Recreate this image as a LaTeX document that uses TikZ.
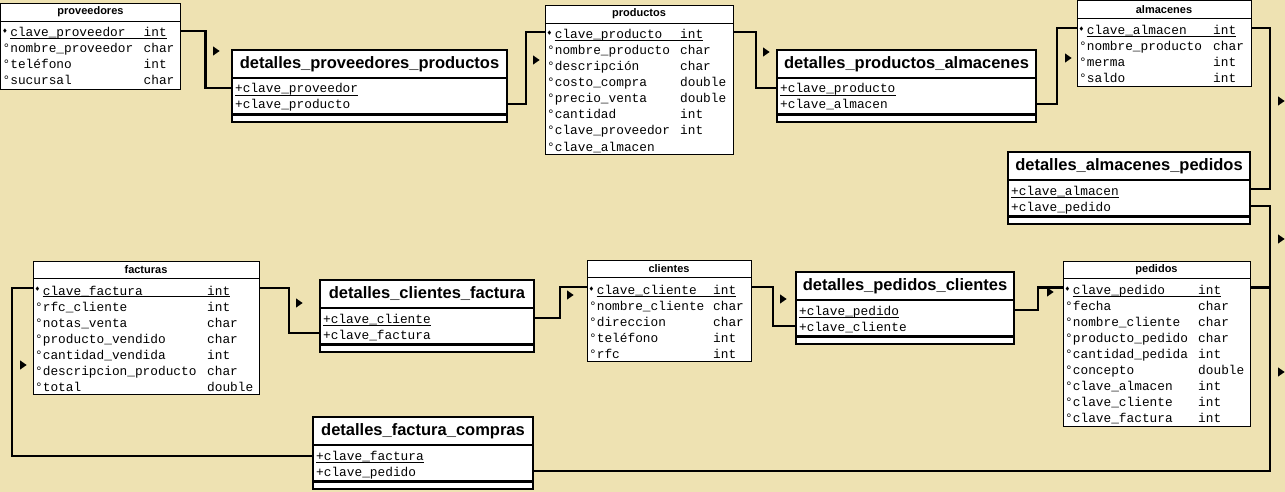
\documentclass[tikz,border=0pt]{standalone}
\usepackage{fontspec}
\usepackage{amssymb}
\setsansfont{Liberation Sans}
\setmonofont{Liberation Mono}
\usetikzlibrary{shapes.geometric}
\definecolor{fondo}{RGB}{238,226,178}
\newcommand{\llave}{\makebox[0.6em][l]{\raisebox{0.33em}{\fontsize{5}{5}\selectfont$\blacklozenge$}}}

\begin{document}
\begin{tikzpicture}[x=1pt,y=-1pt,
  tabla/.style={draw, fill=white, line width=0.8pt, anchor=north west, inner sep=0pt, outer sep=0pt},
  detalle/.style={draw, fill=white, line width=2.4pt, anchor=north west, inner sep=0pt, outer sep=0pt, minimum height=72},
  linea/.style={line width=0.8pt},
  linea gruesa/.style={line width=2.4pt},
  titulo/.style={font=\sffamily\bfseries\fontsize{11}{13}\selectfont, inner sep=0pt},
  titulo detalle/.style={font=\sffamily\bfseries\fontsize{16.5}{19}\selectfont, inner sep=0pt},
  campo/.style={font=\ttfamily\fontsize{12.8}{16}\selectfont, anchor=base west, inner sep=0pt},
  relacion/.style={line width=2.4pt},
  marca/.style={isosceles triangle, isosceles triangle apex angle=70, inner sep=1.9pt, fill=black}]

  \fill[fondo] (0,0) rectangle (1285,492);
  \useasboundingbox (0,0) rectangle (1285,492);

  % Tablas principales
  \node[tabla, minimum width=180, minimum height=86] (proveedores) at (0.5,3) {};
  \node[titulo] at ([yshift=-9pt]proveedores.north) {proveedores};
  \draw[linea] ([yshift=-18pt]proveedores.north west) -- ([yshift=-18pt]proveedores.north east);
  \foreach \campo/\tipo [count=\i] in {{\llave clave\_proveedor}/int, °nombre\_proveedor/char, °teléfono/int, °sucursal/char} {
    \node[campo] (proveedores-c\i) at ([xshift=2pt, yshift={-34pt-16pt*(\i-1)}]proveedores.north west) {\campo};
    \node[campo] (proveedores-t\i) at ([xshift=143pt, yshift={-34pt-16pt*(\i-1)}]proveedores.north west) {\tipo};
  }
  \draw[linea] ([xshift=7.7pt, yshift=-1.5pt]proveedores-c1.base west) -- ([yshift=-1.5pt]proveedores-t1.base east);

  \node[tabla, minimum width=188, minimum height=149] (productos) at (545,5) {};
  \node[titulo] at ([yshift=-9pt]productos.north) {productos};
  \draw[linea] ([yshift=-18pt]productos.north west) -- ([yshift=-18pt]productos.north east);
  \foreach \campo/\tipo [count=\i] in {{\llave clave\_producto}/int, °nombre\_producto/char, °descripción/char, °costo\_compra/double, °precio\_venta/double, °cantidad/int, °clave\_proveedor/int, °clave\_almacen/} {
    \node[campo] (productos-c\i) at ([xshift=2pt, yshift={-34pt-16pt*(\i-1)}]productos.north west) {\campo};
    \node[campo] (productos-t\i) at ([xshift=135pt, yshift={-34pt-16pt*(\i-1)}]productos.north west) {\tipo};
  }
  \draw[linea] ([xshift=7.7pt, yshift=-1.5pt]productos-c1.base west) -- ([yshift=-1.5pt]productos-t1.base east);

  \node[tabla, minimum width=174, minimum height=86] (almacenes) at (1077,0.5) {};
  \node[titulo] at ([yshift=-9pt]almacenes.north) {almacenes};
  \draw[linea] ([yshift=-18pt]almacenes.north west) -- ([yshift=-18pt]almacenes.north east);
  \foreach \campo/\tipo [count=\i] in {{\llave clave\_almacen}/int, °nombre\_producto/char, °merma/int, °saldo/int} {
    \node[campo] (almacenes-c\i) at ([xshift=2pt, yshift={-34pt-16pt*(\i-1)}]almacenes.north west) {\campo};
    \node[campo] (almacenes-t\i) at ([xshift=136pt, yshift={-34pt-16pt*(\i-1)}]almacenes.north west) {\tipo};
  }
  \draw[linea] ([xshift=7.7pt, yshift=-1.5pt]almacenes-c1.base west) -- ([yshift=-1.5pt]almacenes-t1.base east);

  \node[tabla, minimum width=226, minimum height=133] (facturas) at (33,261) {};
  \node[titulo] at ([yshift=-9pt]facturas.north) {facturas};
  \draw[linea] ([yshift=-17.5pt]facturas.north west) -- ([yshift=-17.5pt]facturas.north east);
  \foreach \campo/\tipo [count=\i] in {{\llave clave\_factura}/int, °rfc\_cliente/int, °notas\_venta/char, °producto\_vendido/char, °cantidad\_vendida/int, °descripcion\_producto/char, °total/double} {
    \node[campo] (facturas-c\i) at ([xshift=2pt, yshift={-34pt-16pt*(\i-1)}]facturas.north west) {\campo};
    \node[campo] (facturas-t\i) at ([xshift=174pt, yshift={-34pt-16pt*(\i-1)}]facturas.north west) {\tipo};
  }
  \draw[linea] ([xshift=7.7pt, yshift=-1.5pt]facturas-c1.base west) -- ([yshift=-1.5pt]facturas-t1.base east);

  \node[tabla, minimum width=164, minimum height=101] (clientes) at (587,260) {};
  \node[titulo] at ([yshift=-8.5pt]clientes.north) {clientes};
  \draw[linea] ([yshift=-17pt]clientes.north west) -- ([yshift=-17pt]clientes.north east);
  \foreach \campo/\tipo [count=\i] in {{\llave clave\_cliente}/int, °nombre\_cliente/char, °direccion/char, °teléfono/int, °rfc/int} {
    \node[campo] (clientes-c\i) at ([xshift=2pt, yshift={-34.5pt-16pt*(\i-1)}]clientes.north west) {\campo};
    \node[campo] (clientes-t\i) at ([xshift=126pt, yshift={-34.5pt-16pt*(\i-1)}]clientes.north west) {\tipo};
  }
  \draw[linea] ([xshift=7.7pt, yshift=-1.5pt]clientes-c1.base west) -- ([yshift=-1.5pt]clientes-t1.base east);

  \node[tabla, minimum width=187, minimum height=165] (pedidos) at (1063,261) {};
  \node[titulo] at ([yshift=-9pt]pedidos.north) {pedidos};
  \draw[linea] ([yshift=-17.5pt]pedidos.north west) -- ([yshift=-17.5pt]pedidos.north east);
  \foreach \campo/\tipo [count=\i] in {{\llave clave\_pedido}/int, °fecha/char, °nombre\_cliente/char, °producto\_pedido/char, °cantidad\_pedida/int, °concepto/double, °clave\_almacen/int, °clave\_cliente/int, °clave\_factura/int} {
    \node[campo] (pedidos-c\i) at ([xshift=2pt, yshift={-33.5pt-16pt*(\i-1)}]pedidos.north west) {\campo};
    \node[campo] (pedidos-t\i) at ([xshift=135pt, yshift={-33.5pt-16pt*(\i-1)}]pedidos.north west) {\tipo};
  }
  \draw[linea] ([xshift=7.7pt, yshift=-1.5pt]pedidos-c1.base west) -- ([yshift=-1.5pt]pedidos-t1.base east);

  % Tablas de detalle
  \foreach \nombre/\titulo/\x/\y/\ancho/\uno/\dos in {
      dpp/detalles\_proveedores\_productos/232/50/275/clave\_proveedor/clave\_producto,
      dpa/detalles\_productos\_almacenes/777/50/259/clave\_producto/clave\_almacen,
      dap/detalles\_almacenes\_pedidos/1008/152/242/clave\_almacen/clave\_pedido,
      dpc/detalles\_pedidos\_clientes/796/272/218/clave\_pedido/clave\_cliente,
      dcf/detalles\_clientes\_factura/320/280/214/clave\_cliente/clave\_factura,
      dfc/detalles\_factura\_compras/313/417/220/clave\_factura/clave\_pedido} {
    \node[detalle, minimum width=\ancho] (\nombre) at (\x,\y) {};
    \node[titulo detalle] at ([yshift=-14pt]\nombre.north) {\titulo};
    \draw[linea gruesa] ([yshift=-28pt]\nombre.north west) -- ([yshift=-28pt]\nombre.north east);
    \draw[linea gruesa] ([yshift=-64.5pt]\nombre.north west) -- ([yshift=-64.5pt]\nombre.north east);
    \node[campo] (\nombre-c1) at ([xshift=3pt, yshift=-43pt]\nombre.north west) {+\uno};
    \node[campo] (\nombre-c2) at ([xshift=3pt, yshift=-59pt]\nombre.north west) {+\dos};
    \draw[linea] ([yshift=-2pt]\nombre-c1.base west) -- ([yshift=-2pt]\nombre-c1.base east);
  }

  % Relaciones
  \draw[relacion] ([yshift=-28pt]proveedores.north east) -- ++(25,0) |- ([yshift=-38pt]dpp.north west);
  \draw[relacion] ([yshift=-54pt]dpp.north east) -- ++(19,0) |- ([yshift=-27pt]productos.north west);
  \draw[relacion] ([yshift=-27pt]productos.north east) -- ++(23,0) |- ([yshift=-38pt]dpa.north west);
  \draw[relacion] ([yshift=-54pt]dpa.north east) -- ++(21,0) |- ([yshift=-27.5pt]almacenes.north west);
  \draw[relacion] ([yshift=-27.5pt]almacenes.north east) -- ++(19,0) |- ([yshift=-37pt]dap.north east);
  \draw[relacion] ([yshift=-54pt]dap.north east) -- ++(20,0) |- ([yshift=-26.5pt]pedidos.north east);
  \draw[relacion] ([yshift=-26.5pt]pedidos.north east) -- ++(20,0) |- ([yshift=-54pt]dfc.north east);
  \draw[relacion] ([yshift=-38pt]dpc.north east) -- ++(24,0) |- ([yshift=-26.5pt]pedidos.north west);
  \draw[relacion] ([yshift=-27pt]clientes.north east) -- ++(22,0) |- ([yshift=-54pt]dpc.north west);
  \draw[relacion] ([yshift=-38pt]dcf.north east) -- ++(26,0) |- ([yshift=-27pt]clientes.north west);
  \draw[relacion] ([yshift=-27pt]facturas.north east) -- ++(30,0) |- ([yshift=-53pt]dcf.north west);
  \draw[relacion] ([yshift=-27pt]facturas.north west) -- ++(-21,0) |- ([yshift=-39pt]dfc.north west);

  % Marcas
  \node[marca] (m1) at (215,51) {};
  \node[marca] (m2) at (535,60) {};
  \node[marca] (m3) at (765,52) {};
  \node[marca] (m4) at (1067,58) {};
  \node[marca] (m5) at (1280,101) {};
  \node[marca] (m6) at (1280,239) {};
  \node[marca] (m7) at (1280,372) {};
  \node[marca] (m8) at (1049,292) {};
  \node[marca] (m9) at (782,299) {};
  \node[marca] (m10) at (569,295) {};
  \node[marca] (m11) at (298,303) {};
  \node[marca] (m12) at (22,365) {};
\end{tikzpicture}
\end{document}
